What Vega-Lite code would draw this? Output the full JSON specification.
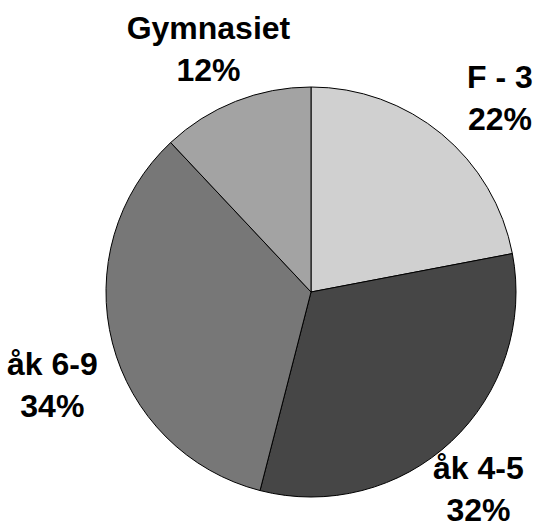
{
  "$schema": "https://vega.github.io/schema/vega-lite/v6.json",
  "width": 490,
  "height": 468,
  "autosize": {"type": "none"},
  "padding": {"left": 66, "top": 58, "right": 0, "bottom": 0},
  "background": "white",
  "config": {"view": {"stroke": null}},
  "data": {
    "values": [
      {"cat": "F - 3", "pct": 22, "ord": 1},
      {"cat": "åk 4-5", "pct": 32, "ord": 2},
      {"cat": "åk 6-9", "pct": 34, "ord": 3},
      {"cat": "Gymnasiet", "pct": 12, "ord": 4}
    ]
  },
  "transform": [
    {"calculate": "datum.cat + '\\n' + datum.pct + '%'", "as": "label"}
  ],
  "encoding": {
    "theta": {"field": "pct", "type": "quantitative", "stack": true},
    "order": {"field": "ord", "type": "quantitative"}
  },
  "layer": [
    {
      "mark": {"type": "arc", "outerRadius": 205, "stroke": "black", "strokeWidth": 1},
      "encoding": {
        "color": {
          "field": "cat",
          "type": "nominal",
          "scale": {
            "domain": ["F - 3", "åk 4-5", "åk 6-9", "Gymnasiet"],
            "range": ["#d0d0d0", "#464646", "#777777", "#a3a3a3"]
          },
          "legend": null
        }
      }
    },
    {
      "mark": {"type": "text", "radius": 265, "dx": 20, "dy": -10, "lineBreak": "\n", "font": "Liberation Sans", "fontWeight": "bold", "fontSize": 32, "lineHeight": 42, "align": "center", "baseline": "middle", "color": "black"},
      "encoding": {"text": {"condition": {"test": "datum.cat === 'F - 3'", "field": "label"}, "value": ""}}
    },
    {
      "mark": {"type": "text", "radius": 265, "dx": -14, "dy": -16, "lineBreak": "\n", "font": "Liberation Sans", "fontWeight": "bold", "fontSize": 32, "lineHeight": 42, "align": "center", "baseline": "middle", "color": "black"},
      "encoding": {"text": {"condition": {"test": "datum.cat === 'åk 4-5'", "field": "label"}, "value": ""}}
    },
    {
      "mark": {"type": "text", "radius": 265, "dx": -2, "dy": 7, "lineBreak": "\n", "font": "Liberation Sans", "fontWeight": "bold", "fontSize": 32, "lineHeight": 42, "align": "center", "baseline": "middle", "color": "black"},
      "encoding": {"text": {"condition": {"test": "datum.cat === 'åk 6-9'", "field": "label"}, "value": ""}}
    },
    {
      "mark": {"type": "text", "radius": 265, "dx": -5, "dy": -17, "lineBreak": "\n", "font": "Liberation Sans", "fontWeight": "bold", "fontSize": 32, "lineHeight": 42, "align": "center", "baseline": "middle", "color": "black"},
      "encoding": {"text": {"condition": {"test": "datum.cat === 'Gymnasiet'", "field": "label"}, "value": ""}}
    }
  ]
}
